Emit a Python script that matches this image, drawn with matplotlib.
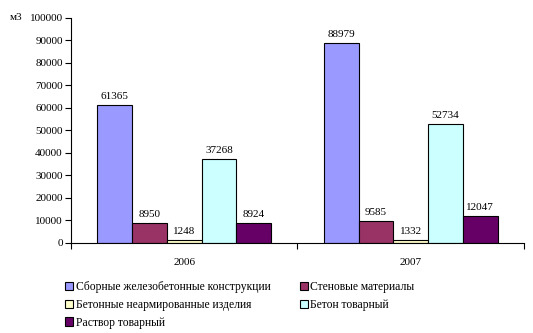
import numpy as np
import matplotlib.pyplot as plt
from matplotlib.patches import Patch

plt.rcParams['font.family'] = ['Liberation Serif', 'DejaVu Serif']

years = ['2006', '2007']
series = ['Сборные железобетонные конструкции', 'Стеновые материалы',
          'Бетонные неармированные изделия', 'Бетон товарный', 'Раствор товарный']
v_sbornye = [61365, 88979]
v_stenovye = [8950, 9585]
v_betonnye = [1248, 1332]
v_beton = [37268, 52734]
v_rastvor = [8924, 12047]
values = [v_sbornye, v_stenovye, v_betonnye, v_beton, v_rastvor]
colors = ['#9999FF', '#993366', '#FFFFCC', '#CCFFFF', '#660066']

fig = plt.figure(figsize=(5.33, 3.33), dpi=100)
ax = fig.add_axes([0.1332, 0.2703, 0.8498, 0.6757])

w = 0.1536
centers = np.arange(len(years)) + 0.5
for i, (vals, c) in enumerate(zip(values, colors)):
    xs = centers + (i - 2) * w
    ax.bar(xs, vals, w, color=c, edgecolor='black', linewidth=0.8)
    for x, v in zip(xs, vals):
        ax.text(x, v + 1800, str(v), ha='center', va='bottom', fontsize=8)

ax.set_xlim(0, 2)
ax.set_ylim(0, 100000)
ax.set_yticks(np.arange(0, 100001, 10000))
ax.tick_params(axis='y', labelsize=8, length=4, width=0.8, pad=2)
ax.set_xticks([0, 1, 2])
ax.set_xticklabels([])
ax.set_xticks(centers, minor=True)
ax.set_xticklabels(years, minor=True, fontsize=8)
ax.tick_params(axis='x', which='major', length=4, width=0.8)
ax.tick_params(axis='x', which='minor', length=0, pad=11)
ax.spines['top'].set_visible(False)
ax.spines['right'].set_visible(False)
fig.text(10 / 533, 1 - 17 / 333, 'м3', fontsize=8, va='center')

handles = [Patch(facecolor=c, edgecolor='black', linewidth=0.8) for c in colors]
order = [0, 2, 4, 1, 3]
fig.legend([handles[k] for k in order], [series[k] for k in order],
           loc='upper left', bbox_to_anchor=(65 / 533, 1 - 281 / 333),
           ncol=2, frameon=False, fontsize=8.4, handlelength=0.7, handleheight=0.7,
           handletextpad=0.2, columnspacing=2.55, labelspacing=0.5, borderaxespad=0,
           borderpad=0)

plt.savefig('out.png')
